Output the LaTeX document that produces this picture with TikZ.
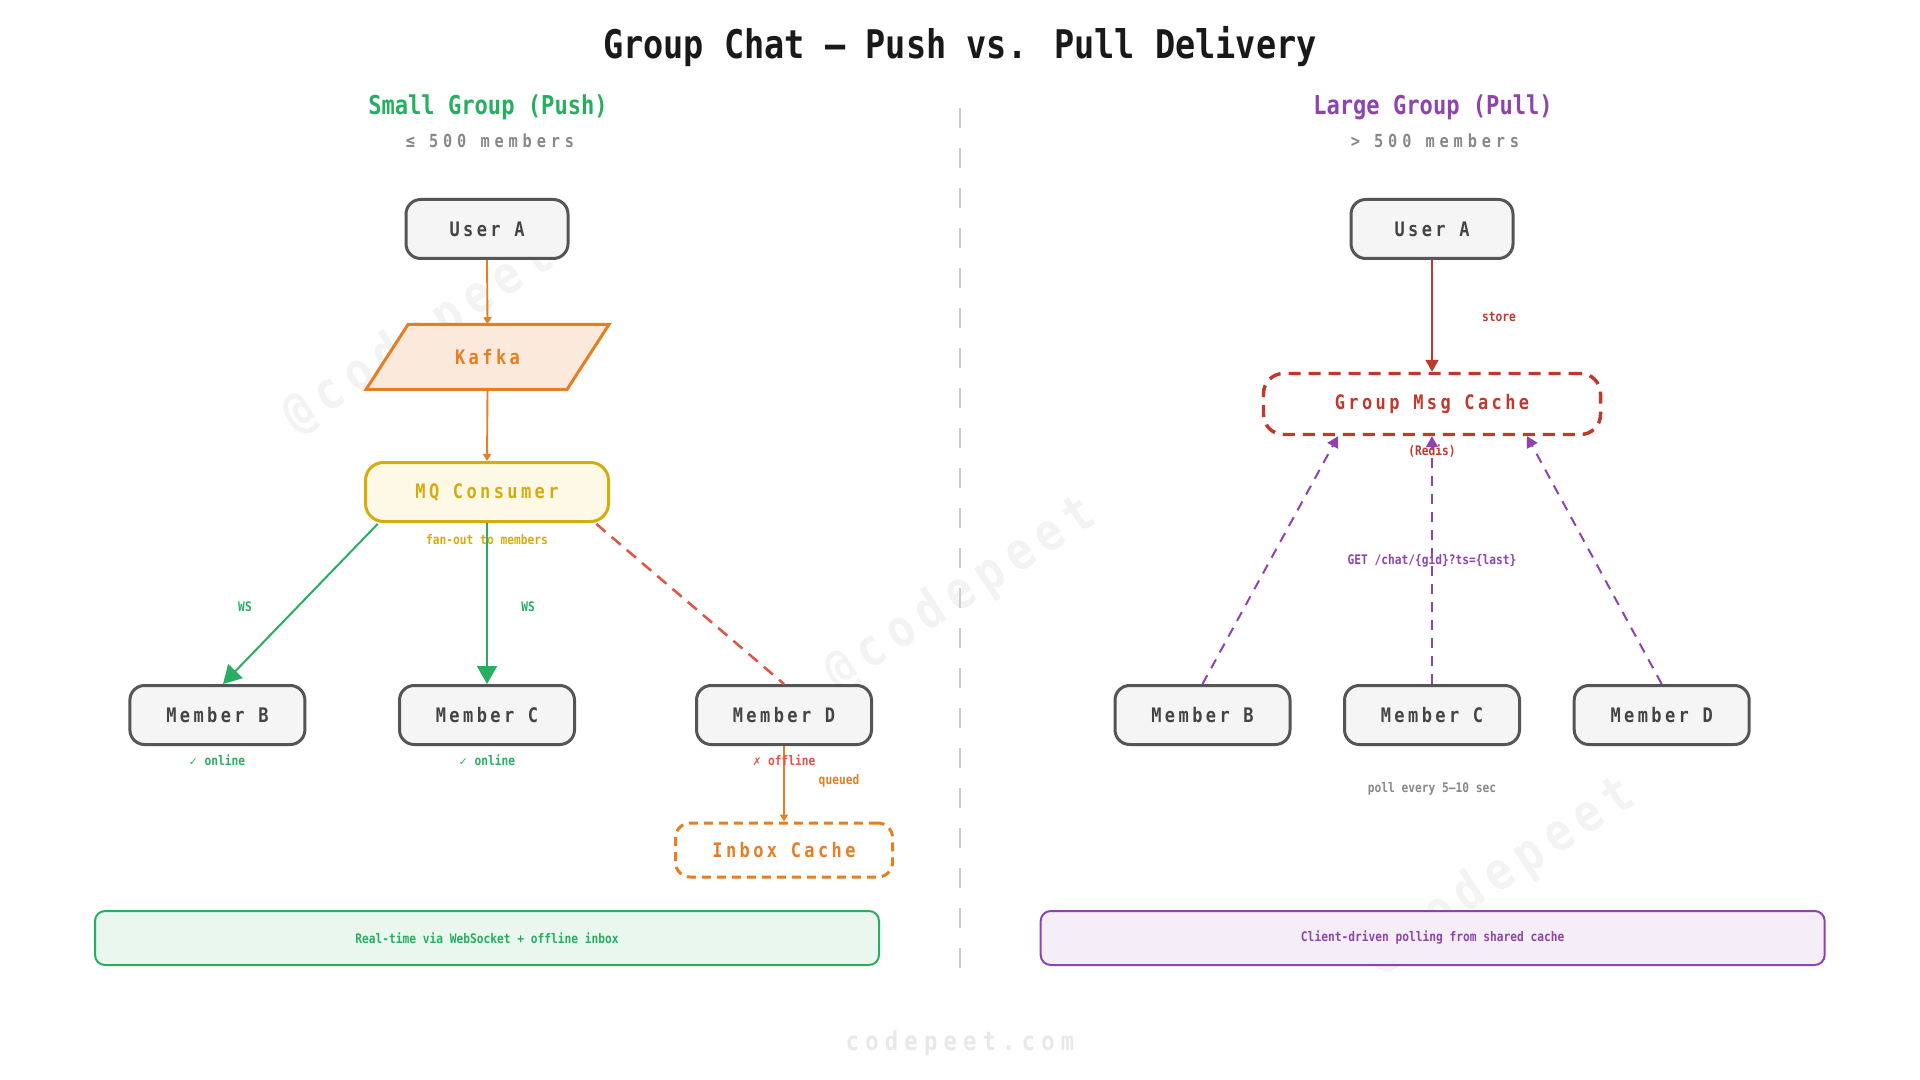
\documentclass[tikz,border=0pt]{standalone}
\usepackage{fontspec}
\setmainfont[FakeStretch=0.85]{DejaVu Sans Mono}
\newfontfamily\spacedA[FakeStretch=0.85,LetterSpace=17]{DejaVu Sans Mono}
\newfontfamily\spacedB[FakeStretch=0.85,LetterSpace=27]{DejaVu Sans Mono}
\newfontfamily\spacedC[FakeStretch=0.85,LetterSpace=24]{DejaVu Sans Mono}
\newfontfamily\checkfnt{DejaVu Sans}
\usetikzlibrary{arrows.meta,calc}
\definecolor{cgreen}{HTML}{27AE60}
\definecolor{cpurple}{HTML}{8E44AD}
\definecolor{corange}{HTML}{E67E22}
\definecolor{cgold}{HTML}{D4AC0D}
\definecolor{cred}{HTML}{E05545}
\definecolor{cdred}{HTML}{C0392B}
\definecolor{cnode}{HTML}{555555}
\definecolor{cnodefill}{HTML}{F5F5F5}
\definecolor{ctext}{HTML}{444444}
\definecolor{cgray}{HTML}{888888}
\definecolor{cdiv}{HTML}{CCCCCC}
\definecolor{ckafka}{HTML}{FBE9DB}
\definecolor{cmq}{HTML}{FEF9E7}
\definecolor{cgbar}{HTML}{EAF7EF}
\definecolor{cpbar}{HTML}{F5EEF8}
\definecolor{cwm}{HTML}{F3F3F3}
\definecolor{cwm2}{HTML}{E8E8E8}
\tikzset{
  boxfont/.style={font={\spacedA\bfseries\fontsize{15pt}{18pt}\selectfont}},
  graybox/.style={boxfont, draw=cnode, fill=cnodefill, line width=2.25pt, rounded corners=11pt,
    minimum height=44.25pt, inner sep=0pt, text=ctext},
  userbox/.style={graybox, minimum width=121.5pt},
  memberbox/.style={graybox, minimum width=131.25pt},
  mqbox/.style={boxfont, draw=cgold, fill=cmq, line width=2.25pt, rounded corners=13.5pt,
    minimum width=182.25pt, minimum height=44.25pt, inner sep=0pt, text=cgold},
  inboxbox/.style={boxfont, draw=corange, fill=white, line width=2.25pt, rounded corners=11pt,
    dash pattern=on 6.75pt off 4.5pt, minimum width=162.75pt, minimum height=40.5pt, inner sep=0pt, text=corange},
  cachebox/.style={boxfont, draw=cdred, fill=white, line width=2.6pt, rounded corners=15pt,
    dash pattern=on 9pt off 6pt, minimum width=252.75pt, minimum height=45.75pt, inner sep=0pt, text=cdred},
  kafkatext/.style={boxfont, minimum width=150.75pt, minimum height=48.75pt, inner sep=0pt, text=corange},
  bar/.style={line width=1.5pt, rounded corners=7.5pt, minimum width=588pt, minimum height=40.5pt,
    inner sep=0pt, font={\bfseries\fontsize{9.9pt}{12pt}\selectfont}},
  small/.style={font={\bfseries\fontsize{9.9pt}{12pt}\selectfont}, inner sep=1pt},
  oarrow/.style={draw=corange, line width=1.4pt, -{Triangle[length=5.25pt,width=6pt]}},
  garrow/.style={draw=cgreen, line width=1.5pt, -{Triangle[length=13.5pt,width=15pt]}},
  rdash/.style={draw=cred, line width=1.9pt, dash pattern=on 9pt off 6pt},
  storearrow/.style={draw=cdred, line width=1.5pt, -{Triangle[length=9pt,width=9.75pt]}},
  parrow/.style={draw=cpurple, line width=1.5pt, dash pattern=on 7.5pt off 6pt, -{Triangle[length=8.25pt,width=9pt]}},
  wmark/.style={text=cwm, font={\spacedA\bfseries\fontsize{39pt}{44pt}\selectfont}, rotate=33}
}
\begin{document}
\begin{tikzpicture}[x=0.75pt,y=-0.75pt]
\fill[white] (0,0) rectangle (1920,1080);
\useasboundingbox (0,0) rectangle (1920,1080);

% watermarks
\node[wmark] (wm1) at (419,337) {@codepeet};
\node[wmark] (wm2) at (961,594) {@codepeet};
\node[wmark] (wm3) at (1500,875) {@codepeet};
\node[text=cwm2, font={\spacedC\bfseries\fontsize{19.5pt}{22pt}\selectfont}] (site) at (960,1043) {codepeet.com};

% title and headings
\node[anchor=base, font={\bfseries\fontsize{29.6pt}{34pt}\selectfont}, text=black!90] (title) at (960,59) {Group Chat — Push vs. Pull Delivery};
\node[anchor=base, font={\bfseries\fontsize{19.5pt}{23pt}\selectfont}, text=cgreen] (hl) at (488,115) {Small Group (Push)};
\node[anchor=base, font={\spacedB\bfseries\fontsize{13.5pt}{16pt}\selectfont}, text=cgray] (shl) at (490,148) {≤ 500 members};
\node[anchor=base, font={\bfseries\fontsize{19.5pt}{23pt}\selectfont}, text=cpurple] (hr) at (1433,115) {Large Group (Pull)};
\node[anchor=base, font={\spacedB\bfseries\fontsize{13.5pt}{16pt}\selectfont}, text=cgray] (shr) at (1435,148) {> 500 members};

% divider
\coordinate (divtop) at (960,108);
\coordinate (divbot) at (960,986);
\draw[cdiv, line width=1.5pt, dash pattern=on 15pt off 15pt] (divtop) -- (divbot);

% ---------- left: push ----------
\node[userbox] (ua) at (487,229) {User A};
\filldraw[fill=ckafka, draw=corange, line width=2.25pt, line join=miter] (366,389.5) -- (567,389.5) -- (609,324.5) -- (408,324.5) -- cycle;
\node[kafkatext] (kafka) at (487.5,357) {Kafka};
\node[mqbox] (mq) at (487,492) {MQ Consumer};
\node[small, text=cgold] (fan) at (487,540) {fan-out to members};
\node[memberbox] (mb) at (217.4,715) {Member B};
\node[memberbox] (mc) at (487,715) {Member C};
\node[memberbox] (md) at (784,715) {Member D};
\node[inboxbox] (inbox) at (784,850) {Inbox Cache};
\node[bar, draw=cgreen, fill=cgbar, text=cgreen] (barl) at (487,938) {Real-time via WebSocket + offline inbox};

\draw[oarrow] (ua.south) -- (kafka.north);
\draw[oarrow] (kafka.south) -- (mq.north);
\coordinate (mqbl) at ($(mq.south west)+(13.6,1)$);
\coordinate (mqbr) at ($(mq.south east)+(-13.6,1)$);
\coordinate (mbin) at ($(mb.north)+(5.6,0)$);
\draw[garrow] (mqbl) -- (mbin);
\draw[garrow] (mq.south) -- (mc.north);
\draw[rdash] (mqbr) -- (md.north);
\draw[oarrow] (md.south) -- (inbox.north);

\node[small, text=cgreen] (ws1) at (245,607) {WS};
\node[small, text=cgreen] (ws2) at (528,607) {WS};
\node[small, text=cgreen] (on1) at (217,760) {{\checkfnt\fontsize{8pt}{10pt}\selectfont ✓} online};
\node[small, text=cgreen] (on2) at (487,760) {{\checkfnt\fontsize{8pt}{10pt}\selectfont ✓} online};
\node[small, text=cred] (off) at (784,760) {{\checkfnt\fontsize{8pt}{10pt}\selectfont ✗} offline};
\node[small, text=corange] (queued) at (839,781) {queued};

% ---------- right: pull ----------
\node[userbox] (ua2) at (1432,229) {User A};
\node[cachebox] (gc) at (1432,404) {Group Msg Cache};
\node[small, text=cdred] (redis) at (1432,451) {(Redis)};
\node[memberbox] (mb2) at (1202.5,715) {Member B};
\node[memberbox] (mc2) at (1432,715) {Member C};
\node[memberbox] (md2) at (1661.7,715) {Member D};
\node[bar, draw=cpurple, fill=cpbar, text=cpurple] (barr) at (1432.7,938) {Client-driven polling from shared cache};

\draw[storearrow] (ua2.south) -- (gc.north);
\node[small, text=cdred] (store) at (1499,317) {store};
\coordinate (gin1) at ($(gc.south)+(-94,0)$);
\coordinate (gin3) at ($(gc.south)+(95,0)$);
\draw[parrow] (mb2.north) -- (gin1);
\draw[parrow] (mc2.north) -- (gc.south);
\draw[parrow] (md2.north) -- (gin3);
\node[small, text=cpurple] (get) at (1432,560) {GET /chat/\{gid\}?ts=\{last\}};
\node[small, text=cgray] (poll) at (1432,789) {poll every 5–10 sec};
\end{tikzpicture}
\end{document}
